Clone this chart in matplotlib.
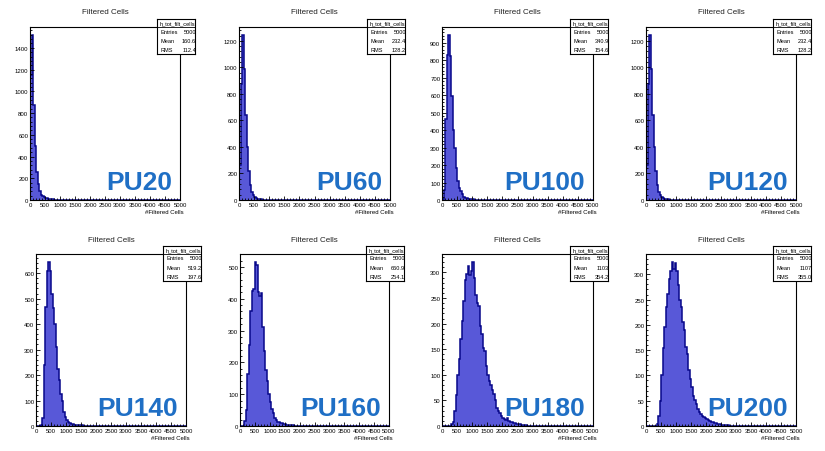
"""
Filtered Cells histograms for several pile-up scenarios (ROOT-style panels)
"""
import matplotlib.pyplot as plt
from matplotlib.ticker import MultipleLocator
import numpy as np

plt.rcParams['font.family'] = ['Liberation Sans', 'DejaVu Sans']

W, H = 825, 452
NBINS = 100
edges = np.linspace(0, 5000, NBINS + 1)

# data (bin width 50, starting at 0)
pu_labels = ['PU20', 'PU60', 'PU100', 'PU120', 'PU140', 'PU160', 'PU180', 'PU200']
entries = [5000] * 8
means = ['160.6', '232.4', '340.9', '232.4', '519.2', '660.9', '1103', '1107']
rmss = ['112.4', '128.2', '154.6', '128.2', '197.6', '254.1', '354.2', '355.0']

counts_pu20 = [1150, 1516, 873, 500, 260, 150, 85, 50, 35, 25, 18, 14, 11, 8, 6, 5,
               4, 3, 3, 2, 2, 1, 1, 1]
counts_pu60 = [266, 878, 1242, 991, 640, 400, 221, 110, 60, 35, 20, 12, 8, 6, 4, 3,
               2, 2, 1, 1]
counts_pu100 = [5, 60, 462, 828, 942, 823, 595, 400, 300, 185, 109, 70, 50, 32, 19,
                13, 10, 7, 5, 4, 3, 2, 2, 1, 1]
counts_pu120 = counts_pu60
counts_pu140 = [0, 0, 0, 5, 30, 241, 466, 610, 643, 610, 518, 462, 400, 309, 224, 179,
                127, 100, 55, 35, 22, 15, 10, 8, 6, 5, 4, 3, 3, 2, 2, 1, 1, 1]
counts_pu160 = [0, 0, 0, 15, 50, 165, 255, 360, 425, 430, 515, 505, 420, 410, 417,
                310, 237, 175, 140, 100, 75, 54, 40, 25, 20, 14, 12, 10, 8, 6, 5, 4,
                3, 3, 2, 2, 1, 1]
counts_pu180 = [0, 0, 0, 0, 0, 0, 3, 8, 30, 60, 100, 130, 170, 205, 245, 285, 297,
                312, 295, 303, 320, 290, 255, 240, 235, 196, 180, 152, 147, 118, 100,
                88, 80, 70, 62, 50, 36, 30, 26, 20, 16, 14, 12, 15, 10, 8, 7, 5, 5,
                4, 3, 3, 2, 2, 1, 1]
counts_pu200 = [0, 0, 0, 0, 0, 0, 0, 4, 20, 50, 100, 155, 195, 235, 262, 290, 307,
                324, 310, 323, 307, 278, 250, 235, 205, 189, 156, 143, 110, 93, 77,
                60, 51, 44, 34, 28, 24, 20, 18, 15, 14, 12, 10, 8, 7, 6, 5, 4, 3, 3,
                2, 2, 1, 1, 1]

all_counts = [counts_pu20, counts_pu60, counts_pu100, counts_pu120,
              counts_pu140, counts_pu160, counts_pu180, counts_pu200]
y_major = [200, 200, 100, 200, 100, 100, 50, 50]

# panel frames in pixels: x0, x1, y0 (top), y1 (bottom)
frames = [(30, 180, 28, 201), (239, 390, 28, 201), (442, 593, 28, 201), (646, 796, 28, 201),
          (36, 186, 255, 427), (240, 389, 255, 427), (442, 593, 255, 427), (646, 796, 255, 427)]

FILL = '#5858d8'
EDGE = '#08088a'
PU_COLOR = '#1f6fc5'


def px_rect(x0, x1, y0, y1):
    return [x0 / W, 1 - y1 / H, (x1 - x0) / W, (y1 - y0) / H]


fig = plt.figure(figsize=(W / 100, H / 100), dpi=100)
fig.patch.set_facecolor('white')

for i, (x0, x1, y0, y1) in enumerate(frames):
    c = np.zeros(NBINS)
    c[:len(all_counts[i])] = all_counts[i]

    ax = fig.add_axes(px_rect(x0, x1, y0, y1))
    ax.stairs(c, edges, fill=True, color=FILL, lw=0)
    ax.stairs(c, edges, color=EDGE, lw=1.1)
    ax.set_xlim(0, 5000)
    ax.set_ylim(0, c.max() * 1.05)

    ax.xaxis.set_major_locator(MultipleLocator(500))
    ax.xaxis.set_minor_locator(MultipleLocator(100))
    ax.yaxis.set_major_locator(MultipleLocator(y_major[i]))
    ax.yaxis.set_minor_locator(MultipleLocator(y_major[i] / 5))
    ax.tick_params(which='both', direction='in', top=False, right=False,
                   labelsize=4.3, pad=1.2, width=0.6)
    ax.tick_params(which='major', length=3)
    ax.tick_params(which='minor', length=1.5)
    for sp in ax.spines.values():
        sp.set_linewidth(0.8)

    # title and axis label
    fig.text((x0 + x1) / 2 / W, 1 - (y0 - 15) / H, 'Filtered Cells',
             ha='center', va='center', fontsize=5.8, color='#222222')
    fig.text((x1 + 4) / W, 1 - (y1 + 11.5) / H, '#Filtered Cells',
             ha='right', va='center', fontsize=4.3)

    # big PU label
    fig.text((x1 - 8) / W, 1 - (y1 - 11) / H, pu_labels[i], ha='right',
             va='baseline', fontsize=19, fontweight='bold', color=PU_COLOR)

    # stats box
    bx = fig.add_axes(px_rect(x1 - 23, x1 + 15, y0 - 8, y0 + 27))
    bx.set_xlim(0, 1)
    bx.set_ylim(0, 1)
    bx.set_xticks([])
    bx.set_yticks([])
    bx.set_facecolor('white')
    for sp in bx.spines.values():
        sp.set_linewidth(0.8)
    bx.axhline(1 - 8 / 35, color='black', lw=0.6)
    bx.text(0.06, 1 - 4 / 35, 'h_tot_filt_cells', ha='left', va='center',
            fontsize=4.1, clip_on=True)
    rows = [('Entries', str(entries[i])), ('Mean', means[i]), ('RMS', rmss[i])]
    for k, (name, val) in enumerate(rows):
        yy = 1 - (12 + 9.3 * k) / 35
        bx.text(0.08, yy, name, ha='left', va='center', fontsize=4.1, clip_on=True)
        bx.text(1.03, yy, val, ha='right', va='center', fontsize=4.1, clip_on=True)

fig.savefig('out.png', dpi=100, facecolor='white')
